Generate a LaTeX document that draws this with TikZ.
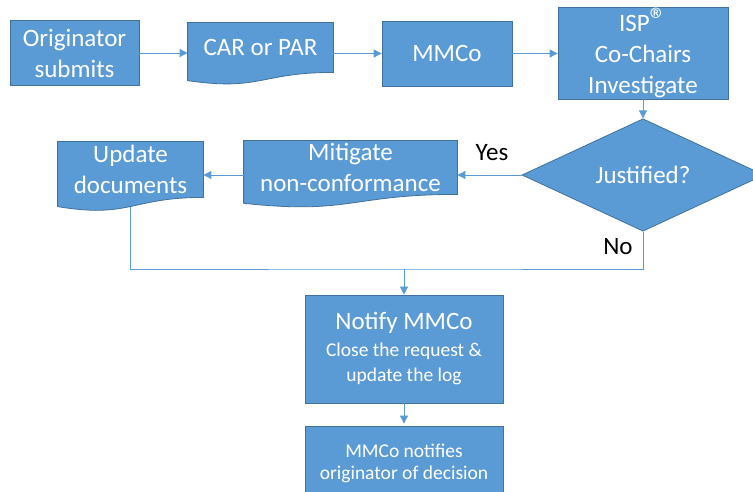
\documentclass[tikz,border=0pt]{standalone}
\usepackage{fontspec}
\setmainfont{Carlito}
\usetikzlibrary{shapes.geometric,arrows.meta,backgrounds,calc}
\definecolor{boxfill}{HTML}{5B9BD5}
\definecolor{boxedge}{HTML}{41719C}
\tikzset{
    box/.style={rectangle,draw=boxedge,line width=0.8pt,fill=boxfill,
        text=white,align=center,inner sep=0pt,
        font=\fontsize{25}{31}\selectfont},
    docbox/.style={box,draw=none,fill=none},
    decision/.style={diamond,draw=boxedge,line width=0.8pt,fill=boxfill,
        text=white,inner sep=0pt,font=\fontsize{25}{31}\selectfont},
    flow/.style={draw=boxfill,line width=0.9pt,-{Triangle[length=8pt,width=8pt]}},
    link/.style={draw=boxfill,line width=0.9pt},
    answer/.style={font=\fontsize{25}{31}\selectfont}
}
%% document shape with a wavy bottom edge under a node
\newcommand{\docshape}[1]{%
    \path[draw=boxedge,line width=0.8pt,fill=boxfill]
        let \p1=(#1.north), \p2=(#1.south), \n1={\y1-\y2} in
        (#1.north west) -- (#1.north east) -- (#1.south east)
        .. controls (#1.south) and ([yshift={-0.38*(\n1)}]#1.south)
        .. ([yshift={-0.165*(\n1)}]#1.south west) -- cycle;}
\begin{document}
\begin{tikzpicture}[x=1pt,y=-1pt]
    \useasboundingbox (0,0) rectangle (753,492);
    %% Top row
    \node[box,minimum width=129,minimum height=65] (orig) at (74.5,53)
        {Originator\\submits};
    \node[docbox,minimum width=145,minimum height=49] (car) at (260.5,47.5)
        {CAR or PAR};
    \node[box,minimum width=130,minimum height=65] (mmco) at (447,53.5)
        {MMCo};
    \node[box,minimum width=170,minimum height=92] (isp) at (643,53)
        {ISP{\fontsize{34}{34}\selectfont ®}\\Co-Chairs\\Investigate};
    %% Decision
    \node[decision,minimum width=242,minimum height=108] (just) at (643,175)
        {Justified?};
    \node[answer,anchor=center] (yes) at (492,153) {Yes};
    \node[answer,anchor=center] (no) at (618,247) {No};
    %% Middle row
    \node[docbox,minimum width=213,minimum height=53] (mit) at (350.5,167.5)
        {Mitigate\\non-conformance};
    \node[docbox,minimum width=145,minimum height=55] (upd) at (130.5,169.5)
        {Update\\documents};
    %% Bottom
    \node[box,minimum width=198,minimum height=108] (notify) at (404,349)
        {Notify MMCo\\[-4pt]{\fontsize{19.5}{24}\selectfont Close the request \&}\\[-6pt]
         {\fontsize{19.5}{24}\selectfont update the log}};
    \node[box,minimum width=198,minimum height=74,
        font=\fontsize{19.5}{22}\selectfont] (final) at (404,463)
        {MMCo notifies\\originator of decision};
    \coordinate (merge) at (404,269);
    %% Document shapes and the return line behind them
    \begin{pgfonlayer}{background}
        \draw[link] (upd.south) |- (merge) -| (just.south);
        \docshape{car}
        \docshape{mit}
        \docshape{upd}
    \end{pgfonlayer}
    %% Connectors
    \draw[flow] (orig.east) -- (orig.east -| car.west);
    \draw[flow] (car.east |- mmco.west) -- (mmco.west);
    \draw[flow] (mmco.east) -- (mmco.east -| isp.west);
    \draw[flow] (isp.south) -- (just.north);
    \draw[flow] (just.west) -- (just.west -| mit.east);
    \draw[flow] (mit.west |- just.west) -- (just.west -| upd.east);
    \draw[flow] (merge) -- (notify.north);
    \draw[flow] (notify.south) -- ([yshift=2pt]final.north);
\end{tikzpicture}
\end{document}
